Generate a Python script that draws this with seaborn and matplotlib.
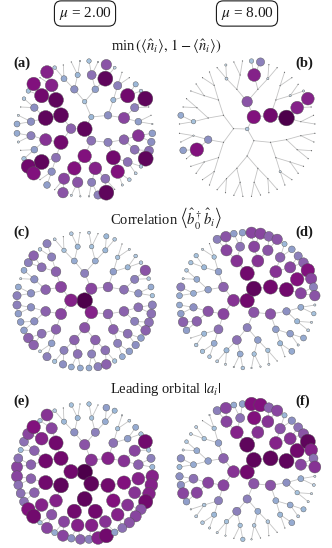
#!/usr/bin/env python3
import matplotlib.pyplot as plt
import pandas as pd
import seaborn as sns

# node layout, level by level (units: 1/3 pixel)
node_x = [254,
          213, 274, 274,
          183, 183, 254, 324, 324, 254,
          137, 168, 137, 168, 223, 286, 340, 372, 372, 340, 223, 286,
          93, 103, 125, 155, 93, 103, 125, 155, 192, 233, 275, 316, 353, 383, 404, 415, 415, 404, 383, 353, 192, 233, 275, 316,
          51, 55, 62, 72, 85, 101, 120, 141, 51, 55, 62, 72, 85, 101, 120, 141,
          164, 190, 214, 240, 267, 294, 319, 344, 366, 388, 407, 423, 436, 446, 453, 457,
          457, 454, 447, 437, 423, 407, 388, 367, 164, 189, 214, 241, 267, 294, 319, 344]
node_y = [332,
          331, 296, 367,
          291, 372, 250, 291, 372, 413,
          299, 245, 364, 418, 213, 213, 245, 299, 364, 418, 450, 450,
          310, 268, 232, 201, 352, 394, 431, 460, 181, 170, 170, 181, 202, 232, 268, 310, 352, 394, 431, 460, 481, 492, 492, 481,
          317, 291, 266, 241, 218, 197, 178, 161, 345, 371, 396, 421, 444, 465, 484, 500,
          148, 140, 131, 128, 128, 131, 139, 148, 162, 178, 198, 218, 241, 266, 291, 317,
          345, 371, 397, 421, 444, 465, 484, 500, 514, 523, 531, 534, 534, 530, 523, 513]

# node magnitudes, same order as the layout
vals_a = [20,
          13, 7, 12,
          20, 19, 6, 10, 11, 18,
          20, 20, 16, 12, 10, 9, 7, 15, 13, 19, 18, 17,
          10, 10, 19, 17, 11, 9, 20, 10, 8, 7, 12, 20, 11, 19, 11, 9, 16, 12, 12, 18, 15, 14, 11, 12,
          8, 3, 1, 5, 6, 18, 1, 17, 8, 3, 1, 6, 19, 18, 1, 9,
          5, 1, 1, 2, 6, 2, 14, 4, 1, 1, 7, 5, 20, 1, 1, 2,
          9, 10, 12, 20, 5, 4, 5, 3, 1, 14, 3, 2, 2, 11, 20, 1]
vals_b = [5,
          1, 18, 1,
          1, 1, 14, 19, 1, 1,
          1, 1, 10, 1, 1, 1, 1, 21, 1, 1, 1, 1,
          6, 1, 1, 1, 2, 18, 1, 1, 4, 1, 17, 3, 1, 3, 17, 1, 1, 1, 1, 3, 1, 1, 1, 1,
          1, 8, 1, 1, 1, 1, 1, 1, 1, 1, 9, 1, 1, 1, 1, 1,
          1, 3, 1, 1, 6, 11, 1, 1, 1, 1, 1, 3, 17, 1, 1, 1,
          1, 1, 1, 1, 1, 1, 1, 1, 1, 1, 1, 1, 1, 1, 1, 1]
vals_c = [21,
          17, 15, 17,
          15, 15, 11, 13, 13, 14,
          13, 13, 13, 13, 8, 8, 9, 12, 13, 13, 13, 13,
          10, 10, 12, 11, 10, 10, 12, 9, 6, 7, 6, 7, 6, 7, 11, 10, 12, 11, 12, 11, 11, 12, 11, 12,
          11, 8, 3, 8, 11, 13, 5, 11, 11, 9, 9, 9, 13, 13, 4, 11,
          4, 1, 5, 1, 4, 1, 7, 5, 1, 3, 5, 5, 14, 5, 8, 6,
          11, 12, 12, 13, 9, 10, 9, 8, 6, 10, 8, 8, 8, 11, 13, 6]
vals_d = [19,
          16, 20, 14,
          13, 15, 19, 19, 14, 11,
          9, 9, 14, 12, 16, 16, 16, 19, 10, 9, 12, 9,
          8, 8, 7, 6, 10, 13, 7, 8, 15, 12, 15, 14, 13, 15, 18, 15, 8, 7, 9, 7, 7, 8, 6, 6,
          8, 11, 3, 5, 6, 6, 3, 1, 8, 9, 13, 9, 1, 5, 6, 5,
          11, 14, 9, 9, 15, 15, 13, 14, 7, 9, 11, 13, 18, 15, 11, 14,
          3, 6, 3, 4, 8, 3, 8, 1, 4, 3, 2, 5, 2, 2, 3, 1]
vals_e = [21,
          19, 16, 20,
          19, 20, 14, 17, 19, 20,
          19, 19, 19, 17, 10, 11, 12, 16, 18, 18, 19, 19,
          13, 13, 17, 15, 13, 13, 17, 14, 7, 7, 6, 8, 6, 9, 15, 13, 17, 16, 16, 17, 15, 17, 17, 16,
          15, 12, 7, 12, 15, 18, 6, 16, 15, 12, 12, 12, 18, 19, 6, 15,
          5, 1, 6, 1, 6, 1, 9, 7, 2, 4, 8, 6, 19, 6, 11, 7,
          17, 17, 17, 19, 14, 15, 14, 12, 8, 15, 10, 13, 11, 17, 19, 9]
vals_f = [19,
          16, 20, 14,
          13, 15, 20, 20, 14, 11,
          9, 9, 15, 11, 17, 16, 17, 20, 10, 8, 11, 8,
          8, 8, 6, 6, 12, 15, 5, 7, 15, 12, 18, 16, 14, 16, 19, 15, 8, 6, 8, 7, 6, 6, 5, 5,
          7, 10, 3, 5, 4, 4, 1, 2, 10, 10, 15, 9, 2, 4, 5, 3,
          11, 15, 8, 9, 18, 18, 13, 15, 7, 10, 12, 14, 20, 17, 12, 16,
          3, 4, 3, 3, 7, 4, 8, 1, 3, 2, 1, 6, 2, 1, 1, 1]

panel_names = ["(a)", "(b)", "(c)", "(d)", "(e)", "(f)"]
panel_vals = [vals_a, vals_b, vals_c, vals_d, vals_e, vals_f]
panel_labels_xy = [(22, 63), (304, 63), (22, 232), (304, 232), (22, 401), (303, 401)]
mu_labels = [r"$\mu$ = 2.00", r"$\mu$ = 8.00"]
row_titles = [
    r"min$\,\left(\langle\hat{n}_i\rangle,\,1-\langle\hat{n}_i\rangle\right)$",
    r"Correlation $\left\langle\hat{b}_0^\dagger\hat{b}_i\right\rangle$",
    r"Leading orbital $|a_i|$",
]

W, H = 332, 548


def parent(i):
    return 0 if i < 4 else (i - 2) // 2


def draw_tree(ax, vals):
    for i in range(1, len(node_x)):
        p = parent(i)
        ax.plot([node_x[p], node_x[i]], [node_y[p], node_y[i]], color="#c4c4c4", lw=0.6, zorder=1)
    df = pd.DataFrame({"x": node_x, "y": node_y, "v": vals})
    df["area"] = df["v"] ** 2
    sns.scatterplot(
        data=df,
        x="x",
        y="y",
        hue="v",
        hue_norm=(-1.9, 21),
        palette="BuPu",
        size="area",
        size_norm=(0, 441),
        sizes=(0, 128),
        edgecolor="#555555",
        linewidth=0.3,
        legend=False,
        clip_on=False,
        zorder=2,
        ax=ax,
    )
    ax.set_xlim(0, 498)
    ax.set_ylim(560, 0)
    ax.axis("off")


def main():
    sns.set_theme(style="white")
    plt.rcParams["font.family"] = ["Liberation Serif", "DejaVu Serif"]
    plt.rcParams["mathtext.fontset"] = "stix"

    fig = plt.figure(figsize=(W / 100, H / 100), dpi=100)
    col_left = [0, 162.5]
    row_top = [18.33, 190, 361.33]
    for n, vals in enumerate(panel_vals):
        left = col_left[n % 2]
        top = row_top[n // 2]
        ax = fig.add_axes([left / W, 1 - (top + 560 / 3) / H, 166 / W, (560 / 3) / H])
        ax.patch.set_alpha(0)
        draw_tree(ax, vals)

    for x, label in zip([85, 247], mu_labels):
        fig.text(
            x / W, 1 - 13.5 / H, label, ha="center", va="center", fontsize=11, color="k",
            bbox=dict(boxstyle="round,pad=0.27,rounding_size=0.45", fc="white", ec="k", lw=0.8),
        )
    for y, title in zip([47, 218, 389], row_titles):
        fig.text(166 / W, 1 - y / H, title, ha="center", va="center", fontsize=10.5, color="k")
    for name, (x, y) in zip(panel_names, panel_labels_xy):
        fig.text(x / W, 1 - y / H, name, ha="center", va="center", fontsize=10.5, fontweight="bold", color="k")

    fig.savefig("out.png", dpi=100)


if __name__ == "__main__":
    main()
